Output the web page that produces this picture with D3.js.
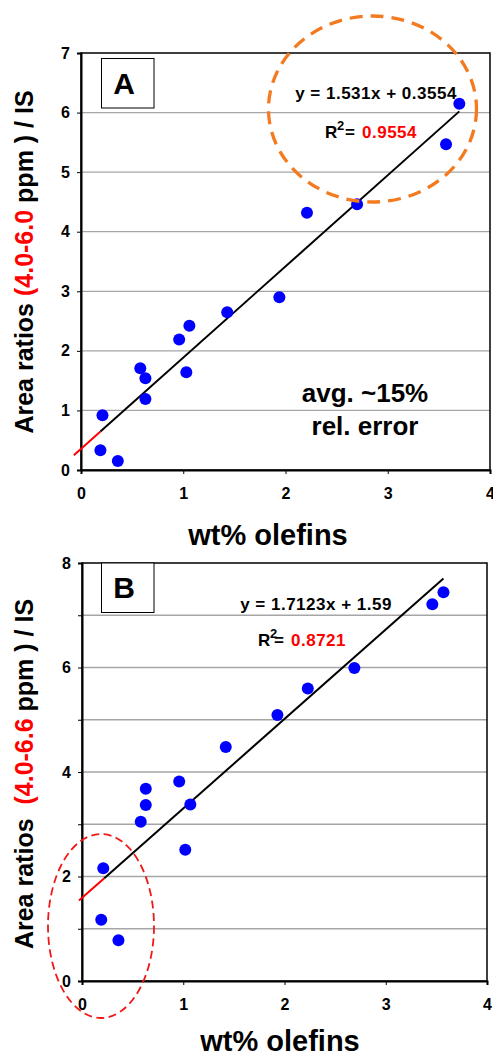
<!DOCTYPE html>
<html>
<head>
<meta charset="utf-8">
<script src="https://cdn.jsdelivr.net/npm/d3@7"></script>
<style>
  body { margin: 0; background: #fff; }
  svg { display: block; font-family: Arial, "Liberation Sans", sans-serif; font-weight: bold; }
  text { white-space: pre; }
</style>
</head>
<body>
<div id="chart"></div>
<script>
// Panel A data: wt% olefins vs area ratio (4.0-6.0 ppm)/IS
const olefinsA = [0.19, 0.36, 0.21, 0.63, 0.58, 0.63, 1.03, 0.96, 1.06, 1.43, 1.94, 2.21, 2.70, 3.57, 3.70];
const ratiosA  = [0.33, 0.15, 0.92, 1.19, 1.71, 1.54, 1.64, 2.19, 2.42, 2.65, 2.90, 4.32, 4.46, 5.47, 6.15];
// Panel B data: wt% olefins vs area ratio (4.0-6.6 ppm)/IS
const olefinsB = [0.19, 0.36, 0.21, 0.58, 0.63, 0.63, 1.02, 1.07, 0.96, 1.42, 1.93, 2.23, 2.69, 3.46, 3.57];
const ratiosB  = [1.17, 0.78, 2.16, 3.05, 3.37, 3.68, 2.51, 3.38, 3.82, 4.48, 5.09, 5.60, 5.99, 7.21, 7.44];

// linear fits [slope, intercept] and [red start, black start, black end]
const fitA = [1.531, 0.3554];
const fitB = [1.7123, 1.59];
const fitRangeA = [-0.07, 0.19, 3.70];
const fitRangeB = [-0.03, 0.22, 3.57];

const xTicks = [0, 1, 2, 3, 4];
const yTicksA = [0, 1, 2, 3, 4, 5, 6, 7];
const yTicksB = [0, 1, 2, 3, 4, 5, 6, 7, 8];

const width = 493;
const height = 1056;

const svg = d3.select("#chart")
  .append("svg")
  .attr("width", width)
  .attr("height", height);

function panel(opt) {
  const x = d3.scaleLinear().domain([0, 4]).range([opt.left, opt.right]);
  const y = d3.scaleLinear().domain(opt.yDomain).range([opt.bottom, opt.top]);
  const g = svg.append("g");

  // gridlines
  g.append("g")
    .selectAll("line")
    .data(opt.yTicks.filter(d => d > 0 && d < opt.yDomain[1]))
    .join("line")
      .attr("x1", opt.left).attr("x2", opt.right)
      .attr("y1", d => y(d)).attr("y2", d => y(d))
      .attr("stroke", "#a6a6a6")
      .attr("stroke-width", 1.3);

  // frame
  g.append("rect")
    .attr("x", opt.left).attr("y", opt.top)
    .attr("width", opt.right - opt.left)
    .attr("height", opt.bottom - opt.top)
    .attr("fill", "none")
    .attr("stroke", "#000")
    .attr("stroke-width", 1.5);

  // axes
  g.append("g")
    .attr("transform", `translate(0,${opt.bottom})`)
    .call(d3.axisBottom(x).tickValues(xTicks).tickSize(4).tickPadding(14).tickFormat(d3.format("d")))
    .call(a => a.select(".domain").attr("stroke-width", 2))
    .call(a => a.selectAll("text").attr("font-size", 16).attr("font-family", null).attr("fill", "#000"));

  g.append("g")
    .attr("transform", `translate(${opt.left},0)`)
    .call(d3.axisLeft(y).tickValues(opt.yTicks).tickSize(4).tickPadding(7)
      .tickFormat(d => opt.yLabelEvery && d % opt.yLabelEvery ? "" : d))
    .call(a => a.select(".domain").attr("stroke-width", 2))
    .call(a => a.selectAll("text").attr("font-size", 16).attr("font-family", null).attr("fill", "#000"));

  // fit line: red extension + black segment
  const fy = v => opt.fit[0] * v + opt.fit[1];
  g.append("line")
    .attr("x1", x(opt.fitRange[0])).attr("y1", y(fy(opt.fitRange[0])))
    .attr("x2", x(opt.fitRange[1])).attr("y2", y(fy(opt.fitRange[1])))
    .attr("stroke", "#ff0000").attr("stroke-width", 2);
  g.append("line")
    .attr("x1", x(opt.fitRange[1])).attr("y1", y(fy(opt.fitRange[1])))
    .attr("x2", x(opt.fitRange[2])).attr("y2", y(fy(opt.fitRange[2])))
    .attr("stroke", "#000").attr("stroke-width", 2);

  // points
  g.append("g")
    .attr("fill", "#0000ff")
    .selectAll("circle")
    .data(opt.xs.map((v, i) => [v, opt.ys[i]]))
    .join("circle")
      .attr("cx", d => x(d[0]))
      .attr("cy", d => y(d[1]))
      .attr("r", 6);

  // letter box
  g.append("rect")
    .attr("x", 101.5).attr("y", opt.boxY)
    .attr("width", 52.5).attr("height", 49.5)
    .attr("fill", "#fff").attr("stroke", "#000").attr("stroke-width", 1);
  g.append("text")
    .attr("x", 124).attr("y", opt.boxY + 35)
    .attr("text-anchor", "middle")
    .attr("font-size", 30)
    .text(opt.letter);

  // equation
  g.append("text")
    .attr("x", opt.eqX).attr("y", opt.eqY)
    .attr("text-anchor", "middle")
    .attr("font-size", 17)
    .attr("letter-spacing", 0.5)
    .text(opt.eq);

  const r2 = g.append("text").attr("y", opt.r2Y).attr("font-size", 17);
  r2.append("tspan").attr("x", opt.r2X).text("R");
  r2.append("tspan").attr("x", opt.r2X + 12).attr("dy", -8).attr("font-size", 13).text("2");
  r2.append("tspan").attr("x", opt.r2X + opt.eqGap).attr("dy", 8).text("=");
  r2.append("tspan").attr("x", opt.r2X + opt.eqGap + 17).attr("fill", "#ff0000").attr("letter-spacing", 0.5).text(opt.r2);

  // axis titles
  g.append("text")
    .attr("x", opt.xTitleX).attr("y", opt.xTitleY)
    .attr("text-anchor", "middle")
    .attr("font-size", 29)
    .text("wt% olefins");

  const yt = g.append("text")
    .attr("transform", `translate(33,${opt.yTitleY}) rotate(-90)`)
    .attr("text-anchor", "middle")
    .attr("font-size", 25);
  yt.append("tspan").text(opt.yTitle[0]);
  yt.append("tspan").attr("fill", "#ff0000").text(opt.yTitle[1]);
  yt.append("tspan").text(opt.yTitle[2]);

  return { x, y, g };
}

const A = panel({
  left: 81, right: 490, top: 53, bottom: 470,
  yDomain: [0, 7], yTicks: yTicksA, yLabelEvery: 0,
  xs: olefinsA, ys: ratiosA, fit: fitA, fitRange: fitRangeA,
  letter: "A", boxY: 58.5,
  eq: "y = 1.531x + 0.3554", eqX: 376, eqY: 99,
  r2: "0.9554", r2X: 325, r2Y: 138, eqGap: 20,
  xTitleX: 268, xTitleY: 545,
  yTitle: ["Area ratios ", "(4.0-6.0", " ppm ) / IS"], yTitleY: 262
});

const B = panel({
  left: 82, right: 487, top: 563, bottom: 981,
  yDomain: [0, 8], yTicks: yTicksB, yLabelEvery: 2,
  xs: olefinsB, ys: ratiosB, fit: fitB, fitRange: fitRangeB,
  letter: "B", boxY: 563,
  eq: "y = 1.7123x + 1.59", eqX: 316, eqY: 610,
  r2: "0.8721", r2X: 258, r2Y: 646, eqGap: 16,
  xTitleX: 280, xTitleY: 1051,
  yTitle: ["Area ratios  ", "(4.0-6.6", " ppm ) / IS"], yTitleY: 774
});

// annotations
A.g.append("text")
  .attr("x", 365).attr("y", 402)
  .attr("text-anchor", "middle")
  .attr("font-size", 26)
  .text("avg. ~15%");
A.g.append("text")
  .attr("x", 365).attr("y", 435)
  .attr("text-anchor", "middle")
  .attr("font-size", 26)
  .text("rel. error");

// highlight ellipses
svg.append("ellipse")
  .attr("cx", 372.5).attr("cy", 109)
  .attr("rx", 104).attr("ry", 93)
  .attr("fill", "none")
  .attr("stroke", "#f47a20")
  .attr("stroke-width", 3.3)
  .attr("stroke-dasharray", "13 8");

svg.append("ellipse")
  .attr("cx", 101).attr("cy", 926)
  .attr("rx", 53).attr("ry", 92)
  .attr("fill", "none")
  .attr("stroke", "#f01818")
  .attr("stroke-width", 1.8)
  .attr("stroke-dasharray", "8 4.5");
</script>
</body>
</html>
